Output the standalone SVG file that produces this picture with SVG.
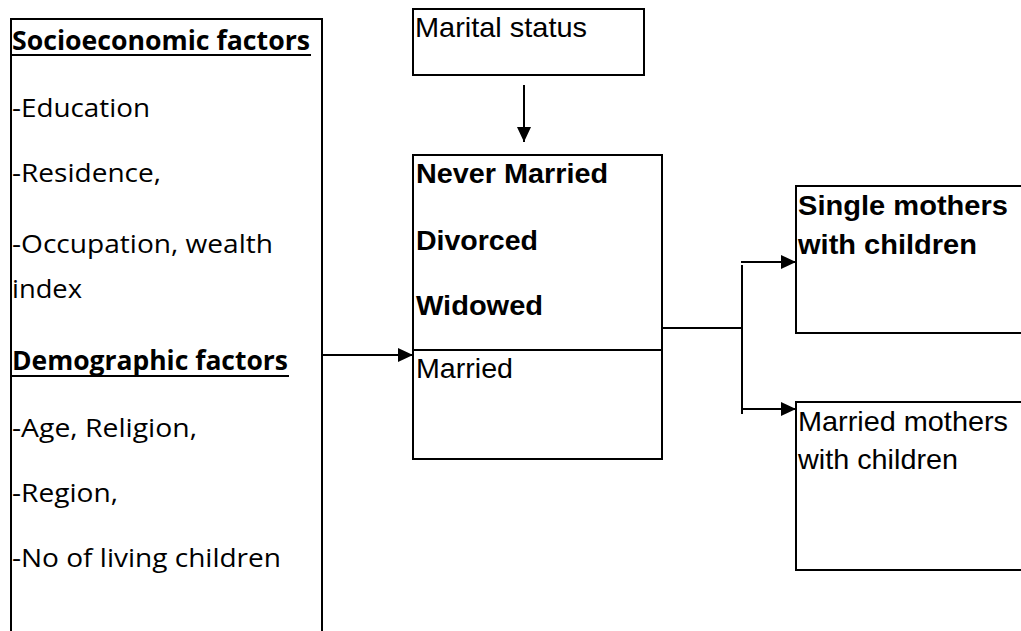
<svg xmlns="http://www.w3.org/2000/svg" width="1021" height="631" viewBox="0 0 1021 631">
<style>
.box{fill:#fff;stroke:#000;stroke-width:2}
.ln{fill:none;stroke:#000;stroke-width:2}
.cal{font-family:"Open Sans","Noto Sans",sans-serif;font-size:26px;fill:#000}
.calb{font-family:"Open Sans","Noto Sans",sans-serif;font-size:26px;font-weight:bold;fill:#000}
.ar{font-family:"Liberation Sans",Arial,sans-serif;font-size:28px;fill:#000}
.arb{font-family:"Liberation Sans",Arial,sans-serif;font-size:28px;font-weight:bold;fill:#000}
</style>
<defs>
<marker id="ah" markerUnits="userSpaceOnUse" markerWidth="15" markerHeight="14" refX="15" refY="7" orient="auto">
<path d="M0,0 L15,7 L0,14 z" fill="#000"/>
</marker>
</defs>
<rect width="1021" height="631" fill="#fff"/>
<g id="factors">
<rect class="box" x="11" y="19" width="311" height="630"/>
<text class="calb" x="12" y="50" textLength="298" lengthAdjust="spacingAndGlyphs">Socioeconomic factors</text>
<line x1="12" y1="55" x2="311" y2="55" stroke="#000" stroke-width="2"/>
<text class="cal" x="12" y="117" textLength="138" lengthAdjust="spacingAndGlyphs">-Education</text>
<text class="cal" x="12" y="182" textLength="149" lengthAdjust="spacingAndGlyphs">-Residence,</text>
<text class="cal" x="12" y="253" textLength="261" lengthAdjust="spacingAndGlyphs">-Occupation, wealth</text>
<text class="cal" x="12" y="298" textLength="70" lengthAdjust="spacingAndGlyphs">index</text>
<text class="calb" x="12" y="370" textLength="276" lengthAdjust="spacingAndGlyphs">Demographic factors</text>
<line x1="12" y1="376" x2="289" y2="376" stroke="#000" stroke-width="2"/>
<text class="cal" x="12" y="437" textLength="185" lengthAdjust="spacingAndGlyphs">-Age, Religion,</text>
<text class="cal" x="12" y="502" textLength="106" lengthAdjust="spacingAndGlyphs">-Region,</text>
<text class="cal" x="12" y="567" textLength="269" lengthAdjust="spacingAndGlyphs">-No of living children</text>
</g>
<g id="marital">
<rect class="box" x="413" y="9" width="231" height="66"/>
<text class="ar" x="415" y="37" textLength="172" lengthAdjust="spacingAndGlyphs">Marital status</text>
</g>
<g id="status">
<rect class="box" x="413" y="155" width="249" height="304"/>
<line x1="413" y1="350" x2="662" y2="350" stroke="#000" stroke-width="2"/>
<text class="arb" x="416" y="183" textLength="192" lengthAdjust="spacingAndGlyphs">Never Married</text>
<text class="arb" x="416" y="250" textLength="122" lengthAdjust="spacingAndGlyphs">Divorced</text>
<text class="arb" x="416" y="315" textLength="127" lengthAdjust="spacingAndGlyphs">Widowed</text>
<text class="ar" x="416" y="378" textLength="97" lengthAdjust="spacingAndGlyphs">Married</text>
</g>
<g id="single">
<rect class="box" x="796" y="186" width="240" height="147"/>
<text class="arb" x="798" y="215" textLength="210" lengthAdjust="spacingAndGlyphs">Single mothers</text>
<text class="arb" x="798" y="254" textLength="179" lengthAdjust="spacingAndGlyphs">with children</text>
</g>
<g id="married">
<rect class="box" x="796" y="402" width="240" height="168"/>
<text class="ar" x="798" y="431" textLength="210" lengthAdjust="spacingAndGlyphs">Married mothers</text>
<text class="ar" x="798" y="469" textLength="160" lengthAdjust="spacingAndGlyphs">with children</text>
</g>
<g id="connectors">
<line class="ln" x1="322" y1="355" x2="413" y2="355" marker-end="url(#ah)"/>
<line class="ln" x1="524" y1="85" x2="524" y2="142" marker-end="url(#ah)"/>
<line class="ln" x1="662" y1="328" x2="743" y2="328"/>
<line class="ln" x1="742" y1="265" x2="742" y2="414"/>
<line class="ln" x1="741" y1="262" x2="796" y2="262" marker-end="url(#ah)"/>
<line class="ln" x1="741" y1="409" x2="796" y2="409" marker-end="url(#ah)"/>
</g>
</svg>
